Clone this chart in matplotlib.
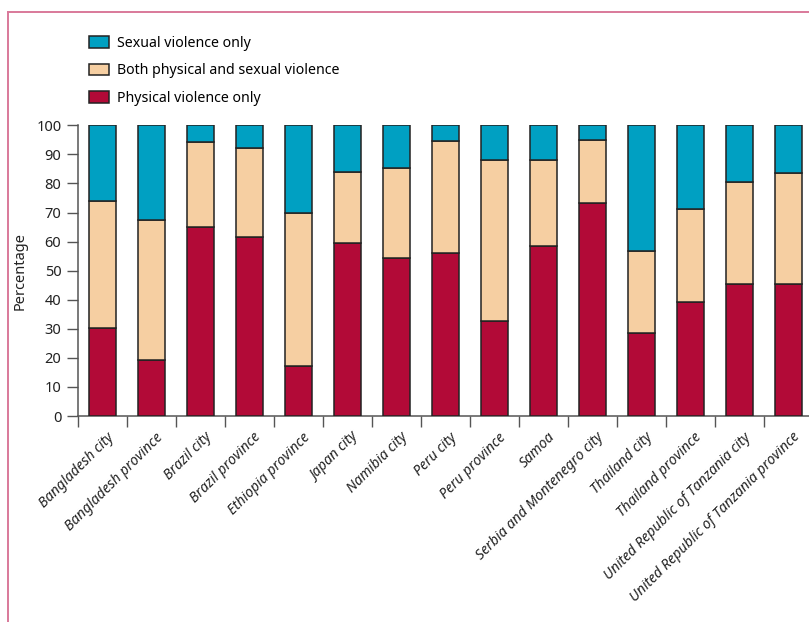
import matplotlib
matplotlib.use("Agg")
import matplotlib.pyplot as plt
from matplotlib.patches import Patch
from matplotlib.lines import Line2D
import numpy as np

plt.rcParams['font.family'] = ['Noto Sans', 'DejaVu Sans']

sites = [
    "Bangladesh city", "Bangladesh province", "Brazil city", "Brazil province",
    "Ethiopia province", "Japan city", "Namibia city", "Peru city",
    "Peru province", "Samoa", "Serbia and Montenegro city", "Thailand city",
    "Thailand province", "United Republic of Tanzania city",
    "United Republic of Tanzania province",
]
physical_only = [30.2, 19.3, 65.1, 61.5, 17.2, 59.5, 54.5, 56.2, 32.8, 58.5, 73.3, 28.4, 39.1, 45.5, 45.4]
both = [43.9, 48.1, 29.1, 30.7, 52.6, 24.6, 30.7, 38.4, 55.4, 29.7, 21.8, 28.3, 32.1, 34.9, 38.1]
sexual_only = [25.9, 32.6, 5.8, 7.8, 30.2, 15.9, 14.8, 5.4, 11.8, 11.8, 4.9, 43.3, 28.8, 19.6, 16.5]

c_sexual = "#00a0c2"
c_both = "#f6cfa2"
c_phys = "#b20a37"
edge = "#222222"
axis_col = "#555555"
frame_col = "#d9799a"

fig = plt.figure(figsize=(8.09, 6.22), dpi=100)

# decorative frame along the top and left edges
fig.add_artist(Line2D([8 / 809, 8 / 809], [0, 1 - 12 / 622], transform=fig.transFigure,
                      color=frame_col, lw=1.4))
fig.add_artist(Line2D([8 / 809, 1], [1 - 12 / 622, 1 - 12 / 622], transform=fig.transFigure,
                      color=frame_col, lw=1.4))

ax = fig.add_axes([78 / 809, 1 - 416 / 622, 735 / 809, 290.7 / 622])

x = np.arange(len(sites)) + 0.5
w = 0.54
phys = np.array(physical_only)
bth = np.array(both)
sex = np.array(sexual_only)
ax.bar(x, phys, w, color=c_phys, edgecolor=edge, linewidth=1.1, zorder=3)
ax.bar(x, bth, w, bottom=phys, color=c_both, edgecolor=edge, linewidth=1.1, zorder=3)
ax.bar(x, sex, w, bottom=phys + bth, color=c_sexual, edgecolor=edge, linewidth=1.1, zorder=3)

ax.set_xlim(0, len(sites))
ax.set_ylim(0, 100)
ax.set_yticks(np.arange(0, 101, 10))
ax.set_xticks(np.arange(0, len(sites)))
ax.set_xticklabels([])
ax.tick_params(axis='both', direction='out', length=8, width=1, color=axis_col,
               labelsize=10.5, labelcolor="#222222")
ax.tick_params(axis='y', pad=4)

for s in ['top', 'right']:
    ax.spines[s].set_visible(False)
for s in ['left', 'bottom']:
    ax.spines[s].set_color(axis_col)
    ax.spines[s].set_linewidth(1.1)

# category labels, italic and rotated, anchored at each bar's centre
for xi, name in zip(x, sites):
    ax.text(xi + 0.08, -4.8, name, rotation=45, ha='right', va='top',
            rotation_mode='anchor', fontsize=10.2, style='italic', color="#222222",
            transform=ax.transData, clip_on=False)

ax.set_ylabel("Percentage", fontsize=10.5, color="#222222", labelpad=6)

handles = [
    Patch(facecolor=c_sexual, edgecolor=edge, linewidth=1.1, label="Sexual violence only"),
    Patch(facecolor=c_both, edgecolor=edge, linewidth=1.1, label="Both physical and sexual violence"),
    Patch(facecolor=c_phys, edgecolor=edge, linewidth=1.1, label="Physical violence only"),
]
fig.legend(handles=handles, loc='upper left', bbox_to_anchor=(83 / 809, 1 - 30 / 622),
           frameon=False, fontsize=10.2, handlelength=1.45, handleheight=0.9,
           handletextpad=0.55, labelspacing=0.9, borderaxespad=0)

fig.savefig("out.png", dpi=100)
